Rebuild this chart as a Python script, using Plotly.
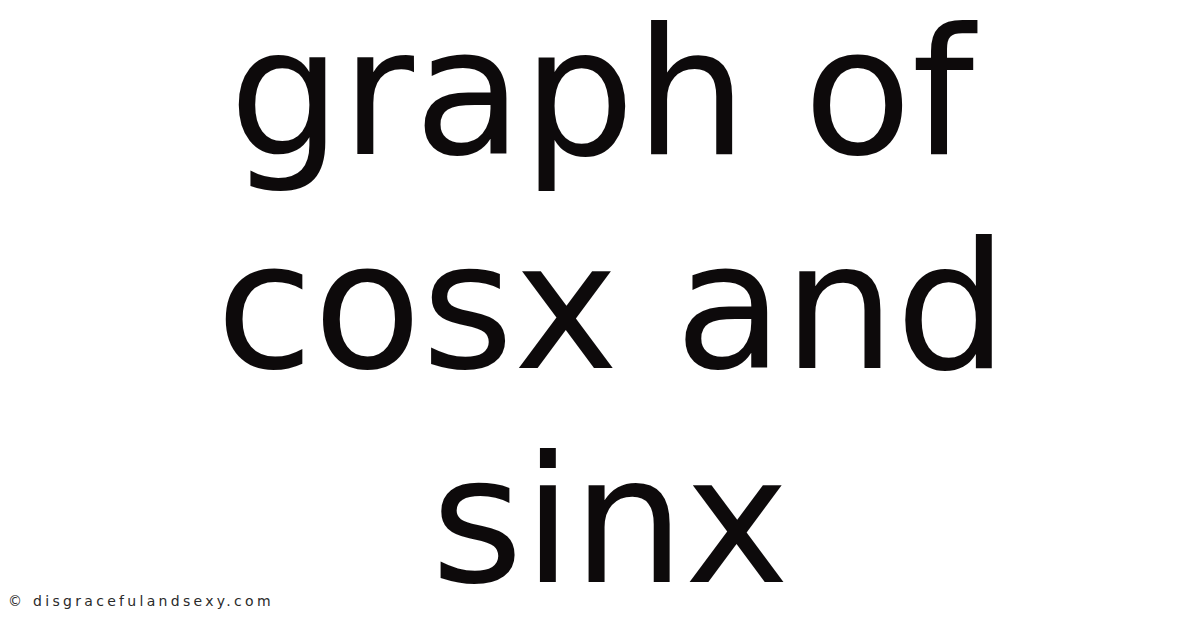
import plotly.graph_objects as go

# Title lines of the card, their horizontal and vertical centres (px)
lines = ['graph of', 'cosx and', 'sinx']
line_x = [595, 604, 602]
line_centres = [85, 299, 513]
watermark = '© disgracefulandsexy.com'

fig = go.Figure()

for text, xc, yc in zip(lines, line_x, line_centres):
    fig.add_annotation(
        x=xc, y=yc, xref='x', yref='y', text=text, showarrow=False,
        xanchor='center', yanchor='middle',
        font=dict(family='DejaVu Sans', size=177, color='#0d0a0b')
    )

# small credit line, spaced out like the original
fig.add_annotation(
    x=0, y=593, xref='x', yref='y', xshift=-2,
    text='<span style="letter-spacing:3.3px">' + watermark + '</span>',
    showarrow=False, xanchor='left', yanchor='middle',
    font=dict(family='DejaVu Sans', size=14, color='#2a2a2a')
)

fig.update_xaxes(range=[0, 1200], visible=False)
fig.update_yaxes(range=[628, 0], visible=False)
fig.update_layout(
    width=1200, height=628, margin=dict(l=0, r=0, t=0, b=0),
    paper_bgcolor='white', plot_bgcolor='white', showlegend=False
)

fig.write_html('out.html')
